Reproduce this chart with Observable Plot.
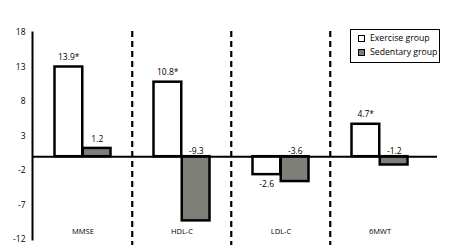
<!DOCTYPE html>
<html>
<head>
<meta charset="utf-8">
<script src="https://cdn.jsdelivr.net/npm/d3@7"></script>
<script src="https://cdn.jsdelivr.net/npm/@observablehq/plot@0.6"></script>
<style>
  body { margin: 0; background: #fff; font-family: "Open Sans", sans-serif; }
  #wrap { position: relative; width: 455px; height: 249px; }
  #legend { position: absolute; left: 350px; top: 29px; width: 88px; height: 32px;
    border: 1.5px solid #000; font-size: 8.7px; color: #000; background: #fff; }
  .item { position: absolute; left: 7px; display: flex; align-items: center; white-space: nowrap; line-height: 1; }
  .sw { width: 5px; height: 5px; border: 1.6px solid #000; margin-right: 5px; }
</style>
</head>
<body>
<div id="wrap"></div>
<script>
const categories = ["MMSE", "HDL-C", "LDL-C", "6MWT"];
const exerciseValues = [13.0, 10.8, -2.6, 4.7];
const sedentaryValues = [1.2, -9.3, -3.6, -1.2];
const exerciseLabels = ["13.9*", "10.8*", "-2.6", "4.7*"];
const sedentaryLabels = ["1.2", "-9.3", "-3.6", "-1.2"];
const yTicks = [18, 13, 8, 3, -2, -7, -12];
const groups = ["Exercise group", "Sedentary group"];
const groupFills = ["#ffffff", "#7f7f7a"];

const ex = categories.map((c, i) => ({cat: c, value: exerciseValues[i], label: exerciseLabels[i]}));
const sed = categories.map((c, i) => ({cat: c, value: sedentaryValues[i], label: sedentaryLabels[i]}));

const fontFamily = "Open Sans, sans-serif";
const half = 49.75;

const chart = Plot.plot({
  width: 455,
  height: 249,
  marginLeft: 32,
  marginRight: 25,
  marginTop: 32,
  marginBottom: 10,
  style: {fontFamily, fontSize: "8px", background: "#fff", color: "#000"},
  x: {domain: categories, padding: 0, axis: null},
  y: {domain: [-12, 18], axis: null},
  marks: [
    Plot.ruleX(categories.slice(1), {x: d => d, dx: -half, stroke: "#000", strokeWidth: 2.2,
      strokeDasharray: "6,4", insetTop: -1, insetBottom: -6}),
    Plot.barY(ex, {x: "cat", y: "value", fill: groupFills[0], stroke: "#000", strokeWidth: 2.5,
      insetLeft: 21.5, insetRight: half}),
    Plot.barY(sed, {x: "cat", y: "value", fill: groupFills[1], stroke: "#000", strokeWidth: 2.5,
      insetLeft: half, insetRight: 21.5}),
    Plot.ruleY([0], {stroke: "#000", strokeWidth: 2, insetRight: -7}),
    Plot.frame({anchor: "left", stroke: "#000", strokeWidth: 2}),
    Plot.axisY({ticks: yTicks, tickSize: 0, tickPadding: 7, tickFormat: d => String(d), fontSize: 8.5, label: null}),
    // exercise labels
    Plot.text(ex.filter(d => d.value >= 0), {x: "cat", y: "value", text: "label", dx: -14.3, dy: -10, fontSize: 8.5}),
    Plot.text(ex.filter(d => d.value < 0), {x: "cat", y: "value", text: "label", dx: -14.3, dy: 10, fontSize: 8.5}),
    // sedentary labels
    Plot.text(sed.filter(d => d.value >= 0), {x: "cat", y: "value", text: "label", dx: 14.3, dy: -9, fontSize: 8.5}),
    Plot.text(sed.filter(d => d.value < 0), {x: "cat", y: () => 0, text: "label", dx: 14.3, dy: -5, fontSize: 8.5}),
    Plot.text(categories, {x: d => d, frameAnchor: "bottom", dy: -6, fontSize: 7.5})
  ]
});

const wrap = document.getElementById("wrap");
wrap.appendChild(chart);

const legend = document.createElement("div");
legend.id = "legend";
groups.forEach((g, i) => {
  const item = document.createElement("div");
  item.className = "item";
  item.style.top = (i === 0 ? 4 : 18) + "px";
  const sw = document.createElement("span");
  sw.className = "sw";
  sw.style.background = groupFills[i];
  const t = document.createElement("span");
  t.textContent = g;
  item.appendChild(sw);
  item.appendChild(t);
  legend.appendChild(item);
});
wrap.appendChild(legend);
</script>
</body>
</html>
